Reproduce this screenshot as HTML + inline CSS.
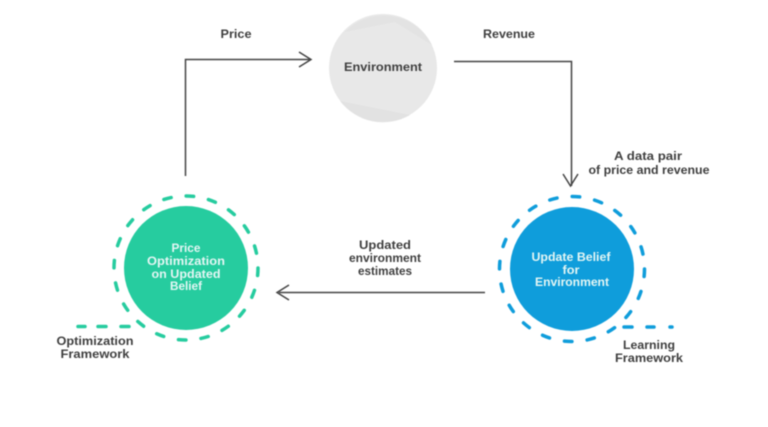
<!DOCTYPE html>
<html>
<head>
<meta charset="utf-8">
<style>
html,body{margin:0;padding:0;background:#fff;width:768px;height:427px;overflow:hidden}
svg{display:block;filter:blur(.5px)}
text{font-family:"Liberation Sans",sans-serif;font-weight:700;font-size:12px;text-anchor:middle;fill:#3f3f3f}
.w{fill:#e4f6f4;font-size:11.5px}
</style>
</head>
<body>
<svg width="768" height="427" viewBox="0 0 768 427" xmlns="http://www.w3.org/2000/svg">
<rect width="768" height="427" fill="#fff"/>
<circle cx="383" cy="68" r="54" fill="#e8e8e8"/>
<path d="M345 32A54 54 0 0 1 432 45L395 22Z" fill="#e3e3e3"/>
<path d="M340 101A54 54 0 0 0 410 115Z" fill="#e2e2e2"/>
<g fill="none" stroke="#444" stroke-width="1.5">
<path d="M185.500 176V59.500H310"/>
<path d="M299 52L311 59.500L299 67"/>
<path d="M454 61.500H571.500V186"/>
<path d="M563 174L570.500 186L578 174"/>
<path d="M485 292.500H279"/>
<path d="M289 285L277 292.500L289 300"/>
</g>
<circle cx="186" cy="268" r="62" fill="#26cc9f"/>
<circle cx="186" cy="268" r="72" fill="none" stroke="#26cc9f" stroke-width="3.5" stroke-dasharray="7.500 15.120" stroke-linecap="round"/>
<path d="M78 326.500H85M98 326.500H106M121 326.500H129" fill="none" stroke="#26cc9f" stroke-width="3.5" stroke-linecap="round"/>
<circle cx="572" cy="269" r="62" fill="#0f9ddb"/>
<circle cx="572" cy="269" r="72.500" fill="none" stroke="#0f9ddb" stroke-width="3.5" stroke-dasharray="7.500 15.280" stroke-linecap="round"/>
<path d="M624 327H632M647 327H654M670 327H672" fill="none" stroke="#0f9ddb" stroke-width="3.5" stroke-linecap="round"/>
<text x="236" y="38" textLength="31" lengthAdjust="spacingAndGlyphs">Price</text>
<text x="383" y="71" textLength="78" lengthAdjust="spacingAndGlyphs">Environment</text>
<text x="509" y="38" textLength="52" lengthAdjust="spacingAndGlyphs">Revenue</text>
<text x="648" y="160" textLength="68" lengthAdjust="spacingAndGlyphs">A data pair</text>
<text x="649" y="174" textLength="121" lengthAdjust="spacingAndGlyphs">of price and revenue</text>
<text x="385" y="249" textLength="52" lengthAdjust="spacingAndGlyphs">Updated</text>
<text x="385" y="262" textLength="72" lengthAdjust="spacingAndGlyphs">environment</text>
<text x="385" y="275" textLength="54" lengthAdjust="spacingAndGlyphs">estimates</text>
<text class="w" x="186" y="252" textLength="29" lengthAdjust="spacingAndGlyphs">Price</text>
<text class="w" x="186" y="265" textLength="78" lengthAdjust="spacingAndGlyphs">Optimization</text>
<text class="w" x="186" y="278" textLength="69" lengthAdjust="spacingAndGlyphs">on Updated</text>
<text class="w" x="186" y="290" textLength="32" lengthAdjust="spacingAndGlyphs">Belief</text>
<text class="w" x="571" y="261" textLength="79" lengthAdjust="spacingAndGlyphs">Update Belief</text>
<text class="w" x="571" y="274" textLength="17" lengthAdjust="spacingAndGlyphs">for</text>
<text class="w" x="572" y="286" textLength="74" lengthAdjust="spacingAndGlyphs">Environment</text>
<text x="95" y="345" textLength="77" lengthAdjust="spacingAndGlyphs">Optimization</text>
<text x="95" y="358" textLength="69" lengthAdjust="spacingAndGlyphs">Framework</text>
<text x="649" y="349" textLength="52" lengthAdjust="spacingAndGlyphs">Learning</text>
<text x="649" y="362" textLength="68" lengthAdjust="spacingAndGlyphs">Framework</text>
</svg>
</body>
</html>
